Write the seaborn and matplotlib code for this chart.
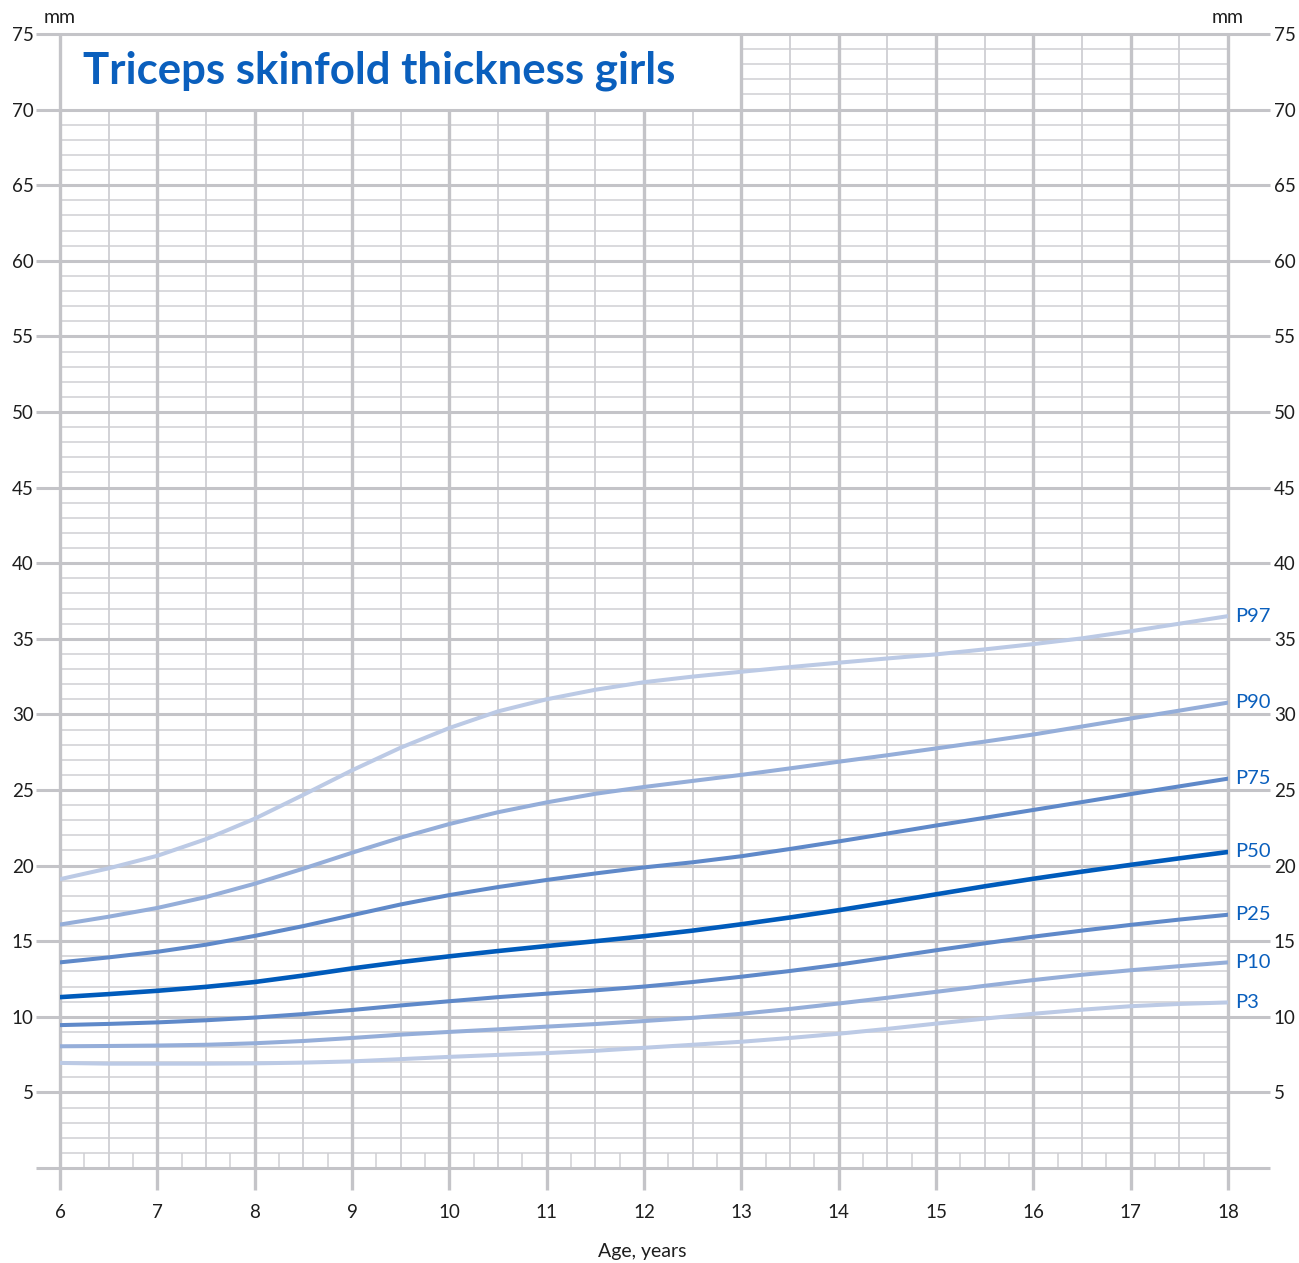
import numpy as np
import pandas as pd
import matplotlib.pyplot as plt
from matplotlib.patches import Rectangle
import seaborn as sns

sns.set_style('white')
plt.rcParams['font.family'] = ['Lato', 'DejaVu Sans']

# age in years, half-year steps
ages = [6.0, 6.5, 7.0, 7.5, 8.0, 8.5, 9.0, 9.5, 10.0, 10.5, 11.0, 11.5, 12.0,
        12.5, 13.0, 13.5, 14.0, 14.5, 15.0, 15.5, 16.0, 16.5, 17.0, 17.5, 18.0]

# triceps skinfold (mm)
p3 = [6.95, 6.9, 6.9, 6.9, 6.92, 6.97, 7.05, 7.2, 7.35, 7.48, 7.6, 7.75, 7.95,
      8.15, 8.35, 8.6, 8.88, 9.2, 9.55, 9.88, 10.2, 10.47, 10.7, 10.85, 10.95]
p10 = [8.05, 8.07, 8.1, 8.15, 8.25, 8.4, 8.6, 8.82, 9.0, 9.17, 9.35, 9.52, 9.72,
       9.93, 10.2, 10.52, 10.88, 11.26, 11.65, 12.05, 12.43, 12.78, 13.08, 13.35, 13.6]
p25 = [9.45, 9.53, 9.63, 9.77, 9.95, 10.18, 10.45, 10.75, 11.03, 11.3, 11.53, 11.75, 12.0,
       12.3, 12.65, 13.03, 13.45, 13.92, 14.4, 14.86, 15.3, 15.7, 16.08, 16.43, 16.75]
p50 = [11.3, 11.5, 11.72, 11.98, 12.3, 12.73, 13.2, 13.62, 14.0, 14.35, 14.68, 15.0, 15.33,
       15.7, 16.12, 16.57, 17.05, 17.57, 18.1, 18.63, 19.13, 19.6, 20.05, 20.48, 20.9]
p75 = [13.6, 13.93, 14.3, 14.77, 15.35, 16.0, 16.72, 17.43, 18.05, 18.58, 19.05, 19.48, 19.88,
       20.22, 20.62, 21.1, 21.6, 22.12, 22.65, 23.16, 23.68, 24.2, 24.73, 25.24, 25.75]
p90 = [16.1, 16.62, 17.2, 17.92, 18.8, 19.8, 20.85, 21.85, 22.75, 23.53, 24.18, 24.75, 25.2,
       25.6, 26.0, 26.43, 26.87, 27.3, 27.75, 28.2, 28.67, 29.2, 29.73, 30.25, 30.78]
p97 = [19.1, 19.82, 20.65, 21.75, 23.1, 24.68, 26.3, 27.8, 29.1, 30.2, 31.0, 31.63, 32.13,
       32.5, 32.82, 33.13, 33.42, 33.7, 33.97, 34.3, 34.65, 35.03, 35.5, 36.0, 36.5]

percentiles = ['P3', 'P10', 'P25', 'P50', 'P75', 'P90', 'P97']
series = [p3, p10, p25, p50, p75, p90, p97]
x_ticks = list(range(6, 19))
y_ticks = list(range(5, 80, 5))

line_colors = {'P3': '#bccae5', 'P10': '#95aed9', 'P25': '#5f89c9', 'P50': '#005bbb',
               'P75': '#5f89c9', 'P90': '#95aed9', 'P97': '#bccae5'}
grid_major = '#c4c4c8'
grid_minor = '#cfcfd3'
blue = '#0a5fbd'
ink = '#1e1e1e'

df = pd.DataFrame({
    'age': ages * len(percentiles),
    'mm': sum(series, []),
    'pct': np.repeat(percentiles, len(ages)),
})

W, H = 1299, 1263
fig = plt.figure(figsize=(W / 100, H / 100), dpi=100)
ax = fig.add_axes([60 / W, 95 / H, 1168 / W, 1134 / H])
ax.set_xlim(6, 18)
ax.set_ylim(0, 75)
for s in ax.spines.values():
    s.set_visible(False)

# chart paper grid
minor_y = [v for v in range(1, 75) if v % 5]
ax.hlines(minor_y, 6, 18, color=grid_minor, lw=1.1, zorder=1)
ax.vlines(np.arange(6.5, 18, 1), 0, 75, color=grid_minor, lw=1.3, zorder=1)
ax.vlines(np.arange(6.25, 18, 0.5), 0, 1, color=grid_minor, lw=1.1, zorder=1)
ax.add_patch(Rectangle((6, 70), 7, 5, facecolor='white', edgecolor='none', zorder=2))
ax.hlines([0] + y_ticks, 5.753, 18.43, color=grid_major, lw=2.2, zorder=3, clip_on=False)
for yr in x_ticks:
    top = 70 if 7 <= yr <= 12 else 75
    ax.vlines(yr, -1.455, top, color=grid_major, lw=2.4, zorder=3, clip_on=False)

# percentile curves
for name, vals in zip(percentiles, series):
    sub = df[df['pct'] == name]
    sns.lineplot(data=sub, x='age', y='mm', color=line_colors[name],
                 lw=3.3 if name == 'P50' else 2.9, ax=ax, zorder=5, legend=False)
    ax.text(18.07, vals[-1], name, color=blue, fontsize=14.5, ha='left', va='center')

ax.text(6.236, 72.6, 'Triceps skinfold thickness girls', color=blue, fontsize=31.5,
        fontweight='bold', ha='left', va='center', zorder=6)
ax.text(6, 76.1, 'mm', ha='center', va='center', fontsize=14, color=ink)
ax.text(18, 76.1, 'mm', ha='center', va='center', fontsize=14, color=ink)

ax.set_xticks(x_ticks)
ax.set_yticks(y_ticks)
ax.tick_params(axis='x', length=0, pad=26, labelsize=13.5, labelcolor=ink)
ax.tick_params(axis='y', length=0, pad=19, labelsize=13.5, labelcolor=ink)
ax.set_xlabel('')
ax.set_ylabel('')

ax2 = ax.twinx()
ax2.set_ylim(0, 75)
ax2.set_yticks(y_ticks)
ax2.tick_params(axis='y', length=0, pad=33, labelsize=13.5, labelcolor=ink)
for s in ax2.spines.values():
    s.set_visible(False)

fig.text(642 / W, 1 - 1251 / H, 'Age, years', ha='center', va='center',
         fontsize=14, color=ink)

fig.savefig('out.png', dpi=100, facecolor='white')
